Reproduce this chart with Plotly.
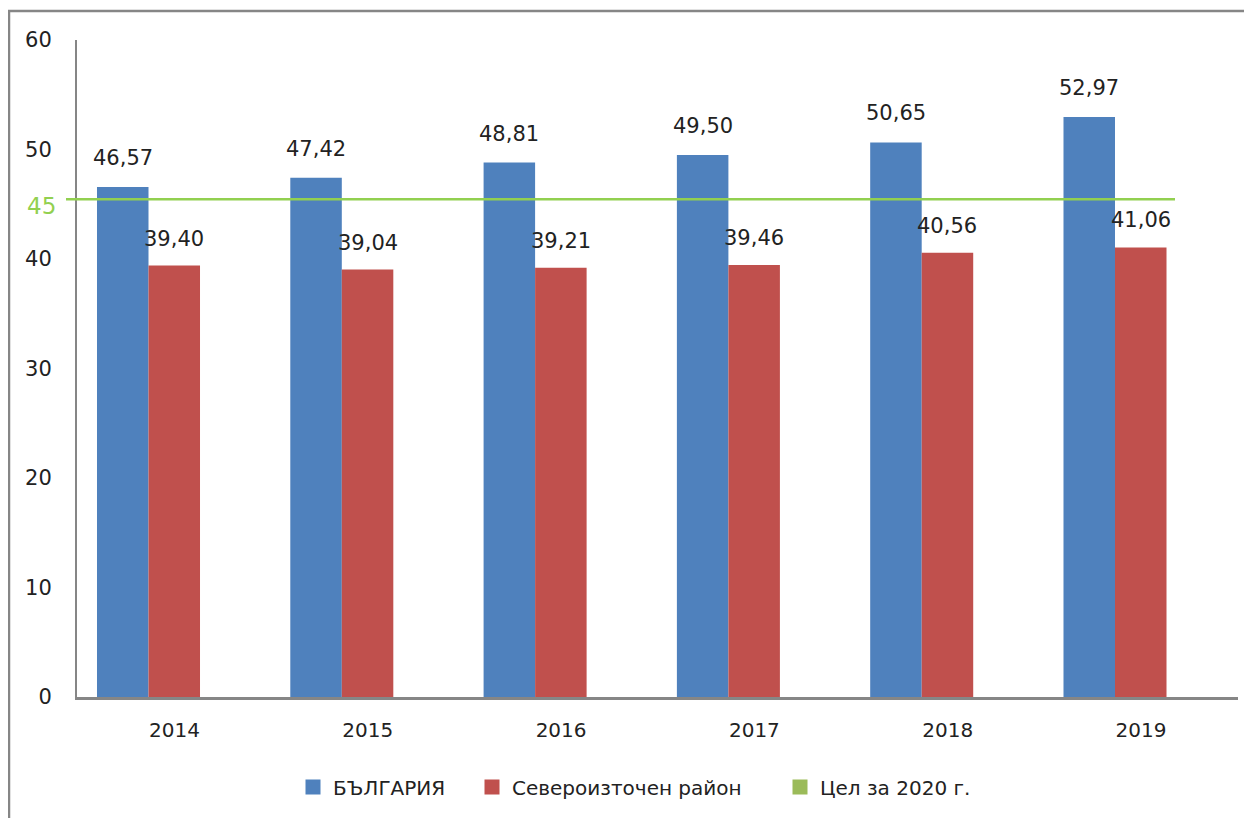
import plotly.graph_objects as go

years = ["2014", "2015", "2016", "2017", "2018", "2019"]
bulgaria = [46.57, 47.42, 48.81, 49.50, 50.65, 52.97]
northeast = [39.40, 39.04, 39.21, 39.46, 40.56, 41.06]
target = 45
series_names = ["БЪЛГАРИЯ", "Североизточен район", "Цел за 2020 г."]

BLUE = "#4F81BD"
RED = "#C0504D"
GREEN_LEG = "#9BBB59"
GREEN_LINE = "#92D050"
GRAY = "#868686"
FONT = "DejaVu Sans"
TXT = "#222222"

# page has an 8px body margin
OFF = 8
W, H = 1252 - OFF, 818 - OFF
ML, MT = 77 - OFF, 40 - OFF
MR = W - (1238 - OFF)
MB = H - (697 - OFF)
pw = W - ML - MR
ph = H - MT - MB

xs = [int(y) for y in years]
# axis extent (category units) and tick-label offset as in the reference
unit_px = 193.3
x_lo = xs[0] - 71.5 / unit_px
x_hi = xs[-1] + 123.0 / unit_px
label_off = 26.0 / unit_px
bargap = 0.467
bar_px = unit_px * (1 - bargap) / 2


def px_x(rx):
    return (rx - OFF - ML) / pw


def px_y(ry):
    return (H - MB - (ry - OFF)) / ph


fig = go.Figure()
fig.add_trace(go.Bar(x=xs, y=bulgaria, name=series_names[0], marker_color=BLUE,
                     marker_line_width=0, showlegend=False))
fig.add_trace(go.Bar(x=xs, y=northeast, name=series_names[1], marker_color=RED,
                     marker_line_width=0, showlegend=False))

legend_colors = [BLUE, RED, GREEN_LEG]
legend_text_x = [333, 512, 820]
for k, (nm, col) in enumerate(zip(series_names, legend_colors)):
    fig.add_trace(go.Scatter(x=[xs[0]], y=[None], name=nm, mode="markers",
                             marker=dict(symbol="square", color=col, size=15),
                             legend="legend" if k == 0 else f"legend{k+1}"))


def fmt(v):
    return f"{v:.2f}".replace(".", ",")


annotations = []
for x, v in zip(xs, bulgaria):
    annotations.append(dict(x=x, y=v, xref="x", yref="y", text=fmt(v), showarrow=False,
                            xshift=-bar_px / 2, yshift=15, yanchor="bottom",
                            font=dict(family=FONT, size=21, color=TXT)))
for x, v in zip(xs, northeast):
    annotations.append(dict(x=x, y=v, xref="x", yref="y", text=fmt(v), showarrow=False,
                            xshift=bar_px / 2, yshift=13, yanchor="bottom",
                            font=dict(family=FONT, size=21, color=TXT)))
annotations.append(dict(x=px_x(58), y=target, xref="paper", yref="y", text=str(target),
                        showarrow=False, xanchor="right", yanchor="middle", yshift=-2,
                        font=dict(family=FONT, size=23, color=GREEN_LINE)))

shapes = [
    dict(type="line", xref="paper", yref="y", x0=px_x(66), x1=px_x(1175),
         ysizemode="pixel", yanchor=target, y0=5, y1=5,
         line=dict(color=GREEN_LINE, width=2.5), layer="above"),
    dict(type="rect", xref="paper", yref="paper", x0=px_x(9), x1=1.2,
         y0=-0.5, y1=px_y(11),
         line=dict(color=GRAY, width=2.5), fillcolor="rgba(0,0,0,0)"),
]

legend_common = dict(orientation="h", xanchor="left", yanchor="middle",
                     y=px_y(787), font=dict(family=FONT, size=20, color=TXT),
                     itemwidth=30, bgcolor="rgba(0,0,0,0)")
legends = {}
for k, tx in enumerate(legend_text_x):
    key = "legend" if k == 0 else f"legend{k+1}"
    legends[key] = dict(legend_common, x=px_x(tx - 40))

fig.update_layout(
    width=W, height=H,
    margin=dict(l=ML, r=MR, t=MT, b=MB),
    paper_bgcolor="white", plot_bgcolor="white",
    barmode="group", bargap=bargap, bargroupgap=0,
    font=dict(family=FONT, size=20, color=TXT),
    showlegend=True,
    xaxis=dict(type="linear", range=[x_lo, x_hi], showline=True,
               tickvals=[x + label_off for x in xs], ticktext=years,
               linecolor=GRAY, linewidth=2.5, showgrid=False, zeroline=False,
               ticks="", ticklabelstandoff=13, tickfont=dict(size=20)),
    yaxis=dict(range=[0, 60], dtick=10, showline=True, linecolor=GRAY, linewidth=2,
               showgrid=False, zeroline=False, ticks="", ticklabelstandoff=19,
               tickfont=dict(size=21)),
    annotations=annotations,
    shapes=shapes,
    **legends,
)

fig.write_html("out.html")
